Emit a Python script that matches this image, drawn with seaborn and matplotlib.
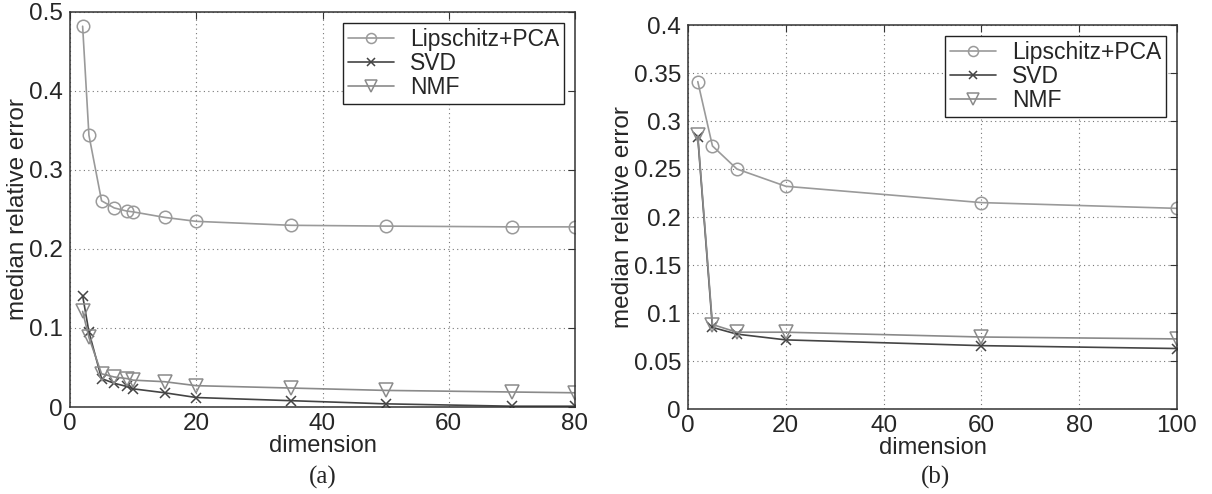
import numpy as np
import pandas as pd
import matplotlib
matplotlib.use("Agg")
import matplotlib.pyplot as plt
from matplotlib.ticker import FuncFormatter, MultipleLocator
import seaborn as sns

# --- datos ---
dims_a = [2, 3, 5, 7, 9, 10, 15, 20, 35, 50, 70, 80]
lip_a = [0.482, 0.344, 0.261, 0.252, 0.248, 0.247, 0.240, 0.235, 0.230, 0.229, 0.228, 0.228]
svd_a = [0.141, 0.095, 0.036, 0.030, 0.026, 0.023, 0.018, 0.012, 0.008, 0.004, 0.001, 0.001]
nmf_a = [0.121, 0.088, 0.042, 0.038, 0.036, 0.034, 0.032, 0.027, 0.024, 0.021, 0.019, 0.018]

dims_b = [2, 5, 10, 20, 60, 100]
lip_b = [0.341, 0.274, 0.250, 0.232, 0.215, 0.209]
svd_b = [0.283, 0.085, 0.078, 0.072, 0.066, 0.063]
nmf_b = [0.285, 0.088, 0.080, 0.080, 0.075, 0.073]

methods = ["Lipschitz+PCA", "SVD", "NMF"]
colors = {"Lipschitz+PCA": "#9a9a9a", "SVD": "#444444", "NMF": "#8a8a8a"}
markers = {"Lipschitz+PCA": "o", "SVD": "x", "NMF": "v"}
msizes = {"Lipschitz+PCA": 9, "SVD": 7, "NMF": 10}

sns.set_style("white")
plt.rcParams["font.family"] = ["Liberation Sans", "DejaVu Sans"]

fig = plt.figure(figsize=(12.12, 4.94), dpi=100)
ax_a = fig.add_axes([70 / 1212, 1 - 407 / 494, 505 / 1212, 395 / 494])
ax_b = fig.add_axes([688 / 1212, 1 - 409 / 494, 489 / 1212, 384 / 494])


def draw(ax, dims, series, xmax, ymax, ystep):
    for name, vals in zip(methods, series):
        c = colors[name]
        sns.lineplot(x=dims, y=vals, color=c, marker=markers[name], markersize=msizes[name],
                     markerfacecolor="none", markeredgecolor=c, markeredgewidth=1.1,
                     linewidth=1.2, label=name, ax=ax)
    ax.set_xlim(0, xmax)
    ax.set_ylim(0, ymax)
    ax.xaxis.set_major_locator(MultipleLocator(20))
    ax.yaxis.set_major_locator(MultipleLocator(ystep))
    ax.yaxis.set_major_formatter(FuncFormatter(lambda v, p: "%g" % round(v, 4)))
    ax.grid(True, linestyle=(0, (1, 3)), color="#777777", linewidth=0.8)
    ax.tick_params(direction="in", top=True, right=True, labelsize=17.5,
                   length=5, color="#333333")
    ax.tick_params(axis="x", pad=4)
    ax.tick_params(axis="y", pad=5)
    for s in ax.spines.values():
        s.set_color("#333333")
        s.set_linewidth(1.1)
    ax.set_xlabel("dimension", fontsize=17, labelpad=0)
    ax.set_ylabel("median relative error", fontsize=17.5, labelpad=0)
    leg = ax.legend(loc="upper right", fontsize=16.5, fancybox=False,
                    framealpha=1, edgecolor="#222222", borderpad=0.2,
                    labelspacing=0.05, handlelength=2.0, handletextpad=0.7,
                    borderaxespad=0.5, markerscale=0.8)
    leg.get_frame().set_linewidth(1.0)


draw(ax_a, dims_a, [lip_a, svd_a, nmf_a], 80, 0.5, 0.1)
draw(ax_b, dims_b, [lip_b, svd_b, nmf_b], 100, 0.4, 0.05)

fig.text(323 / 1212, 1 - 477 / 494, "(a)", fontsize=18, ha="center", va="center",
         family=["Liberation Serif", "DejaVu Serif"])
fig.text(935 / 1212, 1 - 477 / 494, "(b)", fontsize=18, ha="center", va="center",
         family=["Liberation Serif", "DejaVu Serif"])

fig.savefig("out.png", dpi=100)
